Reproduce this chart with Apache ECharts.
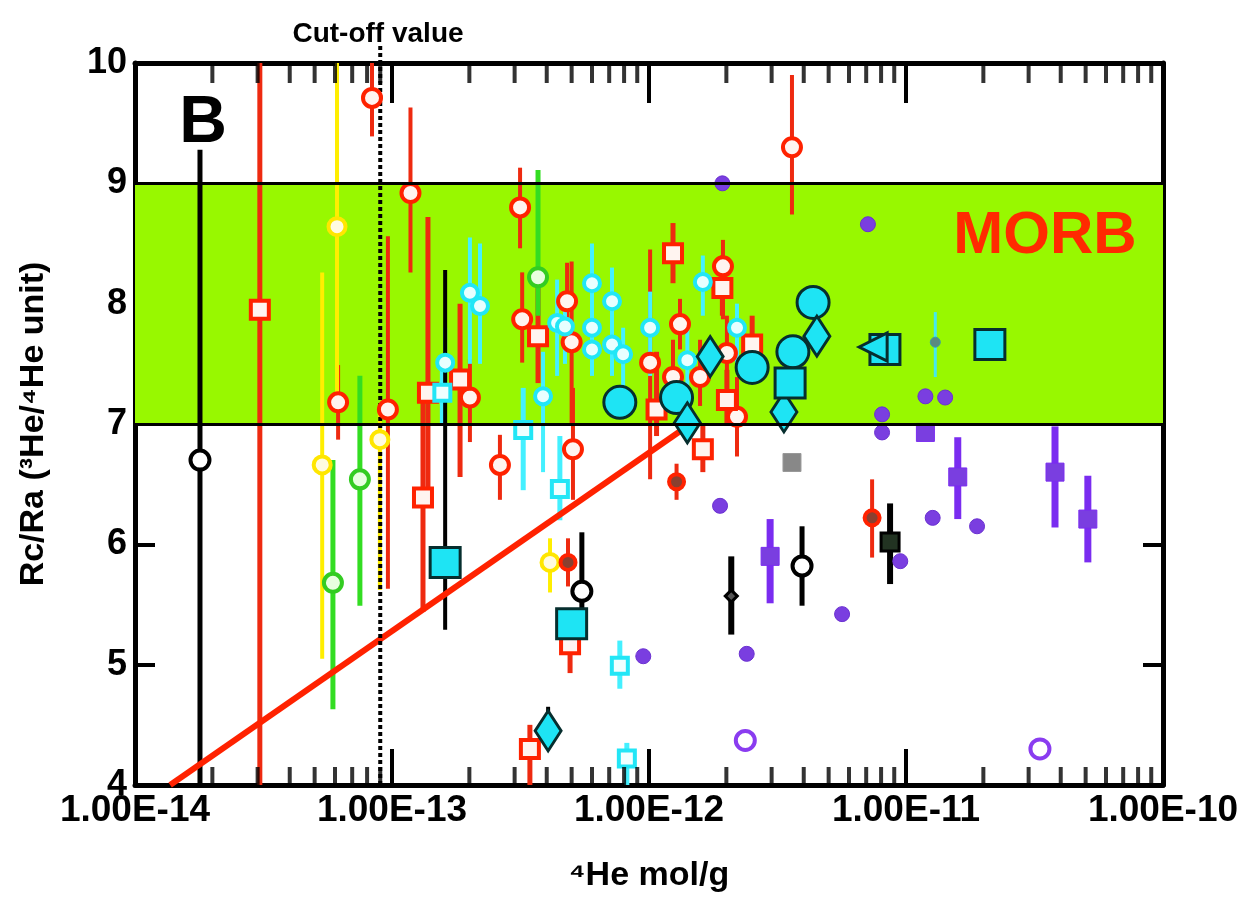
<!DOCTYPE html>
<html>
<head>
<meta charset="utf-8">
<script src="https://cdn.jsdelivr.net/npm/echarts@6/dist/echarts.min.js"></script>
<style>
  html, body { margin: 0; padding: 0; background: #fff; }
  #chart { width: 1253px; height: 903px; }
</style>
</head>
<body>
<div id="chart"></div>
<script>
// rows: [He4 mol/g, R/Ra, low, high]
const redCircles = [
  [1.18e-13, 8.92, 8.26, 9.63], [3.15e-13, 8.80, 8.46, 9.13], [3.21e-13, 7.87, 7.51, 8.26],
  [2.01e-13, 7.22, 6.85, 7.54], [9.64e-14, 7.12, 5.63, 8.56], [6.17e-14, 7.18, 6.87, 7.49],
  [2.63e-13, 6.66, 6.37, 6.91], [5.06e-13, 6.79, 6.37, 7.30], [5.00e-13, 7.68, 7.00, 8.35],
  [4.80e-13, 8.02, 7.70, 8.34], [1.01e-12, 7.51, 6.54, 8.45], [1.32e-12, 7.83, 7.62, 8.04],
  [1.94e-12, 8.31, 7.87, 8.53], [2.01e-12, 7.59, 7.30, 7.90], [2.20e-12, 7.06, 6.73, 7.39],
  [1.24e-12, 7.39, 7.10, 7.70], [8.36e-14, 9.71, 9.39, 10.3], [3.60e-12, 9.30, 8.74, 9.90],
  [1.58e-12, 7.39, 7.15, 7.70]
];
const redSquares = [
  [1.24e-12, 8.42, 8.17, 8.67], [1.93e-12, 8.13, 7.90, 8.40], [2.52e-12, 7.66, 7.40, 7.90],
  [1.07e-12, 7.12, 6.90, 7.60], [1.62e-12, 6.79, 6.60, 7.00], [3.70e-13, 7.73, 7.34, 8.17],
  [1.84e-13, 7.37, 6.56, 8.00], [1.38e-13, 7.26, 6.40, 8.72], [1.32e-13, 6.39, 5.44, 7.30],
  [3.06e-14, 7.95, 3.00, 11.0], [3.44e-13, 4.30, 3.90, 4.50], [4.93e-13, 5.17, 4.93, 5.40],
  [2.01e-12, 7.20, 7.00, 7.45]
];
const redDots = [
  [4.84e-13, 5.85, 5.65, 6.05], [1.28e-12, 6.52, 6.37, 6.67], [7.38e-12, 6.22, 5.89, 6.54]
];
const cyanSmallCircles = [
  [2.01e-13, 8.09, 7.50, 8.55], [2.20e-13, 7.98, 7.50, 8.50], [1.61e-13, 7.51, 7.20, 7.80],
  [3.87e-13, 7.23, 6.60, 7.60], [4.39e-13, 7.84, 7.40, 8.20], [6.00e-13, 8.17, 7.90, 8.50],
  [7.18e-13, 8.02, 7.70, 8.30], [4.71e-13, 7.81, 7.50, 8.10], [6.00e-13, 7.80, 7.50, 8.00],
  [6.00e-13, 7.62, 7.40, 7.90], [7.18e-13, 7.66, 7.40, 7.90], [7.93e-13, 7.58, 7.30, 7.80],
  [1.01e-12, 7.80, 7.40, 8.10], [1.62e-12, 8.18, 7.90, 8.40], [1.41e-12, 7.53, 7.20, 7.80],
  [2.20e-12, 7.80, 7.50, 8.00]
];
const cyanSmallSquares = [
  [4.50e-13, 6.46, 6.20, 6.90], [3.24e-13, 6.95, 6.45, 7.30], [7.70e-13, 4.99, 4.80, 5.20],
  [8.20e-13, 4.22, 3.90, 4.35], [1.57e-13, 7.26, 7.00, 7.50]
];
const cyanBigCircles = [
  [7.70e-13, 7.18], [1.28e-12, 7.22], [2.52e-12, 7.47], [3.63e-12, 7.60], [4.35e-12, 8.01]
];
const cyanBigDiamonds = [
  [1.73e-12, 7.56], [1.41e-12, 7.01], [4.50e-12, 7.73], [3.35e-12, 7.10], [4.05e-13, 4.45, 4.30, 4.65]
];
const cyanBigSquares = [
  [1.61e-13, 5.85, 5.29, 8.28], [5.00e-13, 5.34], [3.54e-12, 7.34], [8.28e-12, 7.62], [2.12e-11, 7.66]
];
const cyanTriangles = [[7.45e-12, 7.64]];
const cyanStars = [[1.30e-11, 7.68, 7.39, 7.93]];
const yellowCircles = [
  [6.11e-14, 8.64, 7.20, 10.5], [5.35e-14, 6.66, 5.05, 8.26], [8.97e-14, 6.87, 5.62, 7.10],
  [4.12e-13, 5.85, 5.60, 6.05]
];
const greenCircles = [
  [5.89e-14, 5.68, 4.63, 6.70], [7.50e-14, 6.54, 5.49, 7.40], [3.70e-13, 8.22, 7.90, 9.11]
];
const blackCircles = [
  [1.79e-14, 6.70, 3.90, 9.28], [5.48e-13, 5.61, 5.30, 6.10], [3.94e-12, 5.82, 5.49, 6.15]
];
const blackSmall = [[2.09e-12, 5.57, 5.25, 5.90]];
const blackSquares = [[8.67e-12, 6.02, 5.67, 6.34]];
const purpleDots = [
  [1.93e-12, 9.00], [7.11e-12, 8.66], [1.19e-11, 7.23], [1.42e-11, 7.22], [8.07e-12, 7.08],
  [8.07e-12, 6.93], [1.27e-11, 6.22], [1.89e-11, 6.15], [9.50e-12, 5.86], [5.64e-12, 5.42],
  [2.40e-12, 5.09], [1.89e-12, 6.32], [9.50e-13, 5.07]
];
const purpleSquares = [
  [1.19e-11, 6.93], [1.59e-11, 6.56, 6.21, 6.89], [3.80e-11, 6.60, 6.14, 6.98],
  [5.10e-11, 6.21, 5.85, 6.57], [2.96e-12, 5.90, 5.51, 6.21]
];
const purpleRings = [[2.37e-12, 4.37], [3.32e-11, 4.30]];
const grayStars = [[3.60e-12, 6.68]];
const trendLine = [[1.37e-14, 4.0], [1.45e-12, 7.0]];
const cutOffLine = [[9.0e-14, 4.0], [9.0e-14, 10.15]];
const morbBand = [7, 9];
const decades = [1e-14, 1e-13, 1e-12, 1e-11];
const minorSteps = [2, 3, 4, 5, 6, 7, 8, 9];

const FONT = 'Liberation Sans';
const RED = '#ff2200', CYAN = '#22e6f6', PURPLE = '#7a2cf0';

function bars(rows, color, width) {
  return {
    type: 'custom', z: 2, clip: true, silent: true,
    data: rows.filter(r => r.length > 2).map(r => [r[0], r[2], r[3]]),
    encode: { x: 0, y: [1, 2] },
    renderItem: function (params, api) {
      const a = api.coord([api.value(0), api.value(1)]);
      const b = api.coord([api.value(0), api.value(2)]);
      return { type: 'line', shape: { x1: a[0], y1: a[1], x2: b[0], y2: b[1] },
        style: { stroke: color, lineWidth: width } };
    }
  };
}
function marks(rows, symbol, size, fill, border, bw, extra) {
  return Object.assign({
    type: 'scatter', z: 4, silent: true, symbol: symbol, symbolSize: size,
    data: rows.map(r => [r[0], r[1]]),
    itemStyle: { color: fill, borderColor: border, borderWidth: bw, opacity: 1 }
  }, extra || {});
}

const minorTicks = [];
decades.forEach(d => minorSteps.forEach(k => minorTicks.push(k * d)));

const chart = echarts.init(document.getElementById('chart'));
chart.setOption({
  animation: false,
  grid: { left: 135, right: 90, top: 63, bottom: 118 },
  xAxis: [{
    type: 'log', min: 1e-14, max: 1e-10, position: 'bottom',
    name: '\u2074He mol/g', nameLocation: 'middle', nameGap: 74,
    nameTextStyle: { fontFamily: FONT, fontWeight: 'bold', fontSize: 34, color: '#000' },
    axisLine: { lineStyle: { color: '#000', width: 5 } },
    axisTick: { inside: true, length: 36, lineStyle: { color: '#000', width: 4 } },
    axisLabel: { fontFamily: FONT, fontWeight: 'bold', fontSize: 37, color: '#000', margin: 7,
      formatter: v => Number(v).toExponential(2).toUpperCase() },
    splitLine: { show: false }
  }, {
    type: 'log', min: 1e-14, max: 1e-10, position: 'top',
    axisLine: { lineStyle: { color: '#000', width: 5 } },
    axisTick: { inside: true, length: 40, lineStyle: { color: '#000', width: 4 } },
    axisLabel: { show: false }, splitLine: { show: false }
  }],
  yAxis: [{
    type: 'value', min: 4, max: 10, interval: 1,
    name: 'Rc/Ra (\u00b3He/\u2074He unit)', nameLocation: 'middle', nameGap: 84,
    nameTextStyle: { fontFamily: FONT, fontWeight: 'bold', fontSize: 34, color: '#000' },
    axisLine: { lineStyle: { color: '#000', width: 5 } },
    axisTick: { inside: true, length: 20, lineStyle: { color: '#000', width: 4 } },
    axisLabel: { fontFamily: FONT, fontWeight: 'bold', fontSize: 36, color: '#000', margin: 8 },
    splitLine: { show: false }
  }, {
    type: 'value', min: 4, max: 10, interval: 1, position: 'right',
    axisLine: { lineStyle: { color: '#000', width: 5 } },
    axisTick: { inside: true, length: 20, lineStyle: { color: '#000', width: 4 } },
    axisLabel: { show: false }, splitLine: { show: false }
  }],
  graphic: [
    { type: 'text', x: 378, y: 34, style: { text: 'Cut-off value', fontFamily: FONT, fontWeight: 'bold',
      fontSize: 28, fill: '#000', textAlign: 'center', textVerticalAlign: 'middle' } },
    { type: 'text', x: 203, y: 124, z: 10, style: { text: 'B', fontFamily: FONT, fontWeight: 'bold',
      fontSize: 66, fill: '#000', textAlign: 'center', textVerticalAlign: 'middle' } },
    { type: 'text', x: 1045, y: 236, z: 10, style: { text: 'MORB', fontFamily: FONT, fontWeight: 'bold',
      fontSize: 60, fill: '#ff2a00', textAlign: 'center', textVerticalAlign: 'middle' } }
  ],
  series: [
    { type: 'line', data: [], z: 1,
      markArea: { silent: true, itemStyle: { color: '#98f800' },
        data: [[{ yAxis: morbBand[0] }, { yAxis: morbBand[1] }]] },
      markLine: { silent: true, symbol: 'none', label: { show: false },
        lineStyle: { color: '#000', width: 3, type: 'solid' },
        data: [{ yAxis: morbBand[0] }, { yAxis: morbBand[1] }] } },
    bars(blackCircles, '#000', 5),
    bars(redCircles, '#ee2a10', 4),
    bars(redSquares, '#ee2a10', 5),
    bars(redDots, '#ee2a10', 4),
    bars(yellowCircles, '#ffee00', 4),
    bars(greenCircles, '#33dd22', 5),
    bars(cyanSmallCircles, '#44f0ff', 4),
    bars(cyanSmallSquares, '#44f0ff', 5),
    bars(cyanBigSquares, '#000', 4),
    bars(cyanBigDiamonds, '#000', 4),
    bars(cyanStars, '#44e8f0', 3),
    bars(blackSmall, '#000', 6),
    bars(blackSquares, '#000', 6),
    bars(purpleSquares, PURPLE, 7),
    { type: 'line', z: 3, silent: true, data: trendLine, symbol: 'none',
      lineStyle: { color: RED, width: 6 } },
    { type: 'line', z: 3, silent: true, clip: false, data: cutOffLine, symbol: 'none',
      lineStyle: { color: '#000', width: 4, type: [4, 3] } },
    marks(yellowCircles, 'circle', 17, '#fffbe0', '#ffe600', 4),
    marks(greenCircles, 'circle', 18, '#e8ffe0', '#33cc22', 4),
    marks(redCircles, 'circle', 18, '#fff4f0', RED, 4),
    marks(redSquares, 'rect', 18, '#fff4f0', RED, 4),
    marks(redDots, 'circle', 15, '#8a4030', RED, 4),
    marks(cyanSmallCircles, 'circle', 16, '#e8ffff', CYAN, 4),
    marks(cyanSmallSquares, 'rect', 16, '#f0ffff', CYAN, 4),
    marks(blackCircles, 'circle', 19, '#fff', '#000', 4),
    marks(blackSmall, 'diamond', 12, '#555', '#000', 3),
    marks(blackSquares, 'rect', 18, '#223322', '#000', 3),
    marks(purpleDots, 'circle', 15, '#7a3ee0', '#6a30d0', 1),
    marks(purpleSquares, 'rect', 18, '#7a3ee0', PURPLE, 1),
    marks(purpleRings, 'circle', 19, '#fff', '#8a3cf0', 4),
    marks(grayStars, 'rect', 18, '#888', '#999', 1),
    marks(cyanStars, 'circle', 10, '#5a8a80', '#3aa0a0', 1),
    marks(cyanBigCircles, 'circle', 32, '#1ee4f4', '#062e2e', 3),
    marks(cyanBigDiamonds, 'diamond', [26, 40], '#1ee4f4', '#062e2e', 3),
    marks(cyanBigSquares, 'rect', 30, '#1ee4f4', '#062e2e', 3),
    marks(cyanTriangles, 'triangle', 28, '#1ee4f4', '#062e2e', 3, { symbolRotate: 90 }),
    // minor ticks on the log axes
    { type: 'scatter', z: 5, silent: true, clip: false, symbol: 'rect', symbolSize: [4, 18],
      symbolOffset: [0, -9], itemStyle: { color: '#000' },
      data: minorTicks.map(v => [v, 4]) },
    { type: 'scatter', z: 5, silent: true, clip: false, symbol: 'rect', symbolSize: [4, 20],
      symbolOffset: [0, 10], itemStyle: { color: '#000' },
      data: minorTicks.map(v => [v, 10]) }
  ]
});
</script>
</body>
</html>
